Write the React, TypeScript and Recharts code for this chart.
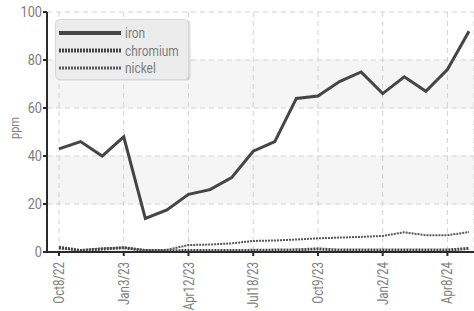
import React from 'react';
import { LineChart, Line, XAxis, YAxis, CartesianGrid } from 'recharts';

const DATES = [
  'Oct8/22', 'Nov8/22', 'Dec5/22', 'Jan3/23', 'Feb6/23', 'Mar9/23', 'Apr12/23',
  'May15/23', 'Jun14/23', 'Jul18/23', 'Aug15/23', 'Sep12/23', 'Oct9/23', 'Nov6/23',
  'Dec4/23', 'Jan2/24', 'Feb5/24', 'Mar7/24', 'Apr8/24', 'May6/24',
];
const IRON = [43, 46, 40, 48, 14, 17.5, 24, 26, 31, 42, 46, 64, 65, 71, 75, 66, 73, 67, 76, 92];
const CHROMIUM = [2, 0.6, 1.2, 1.8, 0.6, 0.5, 0.6, 0.6, 0.6, 0.7, 0.8, 0.9, 1.3, 0.8, 0.8, 0.8, 0.8, 0.8, 0.8, 1.5];
const NICKEL = [1.5, 0.8, 1.5, 1.8, 0.8, 0.9, 2.9, 3.1, 3.6, 4.6, 4.8, 5.2, 5.7, 6, 6.3, 6.7, 8.2, 7, 7, 8.3];
const Y_TICKS = [0, 20, 40, 60, 80, 100];

// no condensed font is installed, so Roboto gets squeezed horizontally
const FONT = 'Roboto, sans-serif';
const LABEL_COLOR = '#7d7d7d';

const data = DATES.map((d, i) => ({ date: d, iron: IRON[i], chromium: CHROMIUM[i], nickel: NICKEL[i] }));

const SERIES = [
  { key: 'iron', width: 3, dash: undefined, color: '#454545' },
  { key: 'chromium', width: 3, dash: '2 1', color: '#454545' },
  { key: 'nickel', width: 2, dash: '2 1', color: '#575757' },
];

const YTick = ({ x, y, payload }: any) => (
  <g transform={`translate(${x + 1},${y}) scale(0.85,1)`}>
    <text x={0} y={0} dy="0.36em" textAnchor="end" fill={LABEL_COLOR} fontSize={15} fontFamily={FONT}>
      {payload.value}
    </text>
  </g>
);

const XTick = ({ x, y, payload }: any) => (
  <g transform={`translate(${x},${y + 4}) rotate(-90) scale(0.82,1)`}>
    <text x={0} y={0} dy="0.36em" textAnchor="end" fill={LABEL_COLOR} fontSize={14} fontFamily={FONT}>
      {payload.value}
    </text>
  </g>
);

const PpmLabel = () => (
  <g transform="translate(14,128) rotate(-90) scale(0.85,1)">
    <text x={0} y={0} dy="0.36em" textAnchor="middle" fill={LABEL_COLOR} fontSize={13} fontFamily={FONT}>
      ppm
    </text>
  </g>
);

const LegendBox = () => (
  <svg width={136} height={63} style={{ position: 'absolute', left: 55, top: 19 }}>
    <rect x={1.5} y={1.5} width={134} height={60} rx={4} fill="#bdbdbd" opacity={0.5} />
    <rect x={0.5} y={0.5} width={133} height={60} rx={4} fill="#ececec" stroke="#d8d8d8" />
    {SERIES.map((s, i) => (
      <g key={s.key} transform={`translate(0,${14 + i * 17.5})`}>
        <line x1={4} y1={0} x2={66} y2={0} stroke={s.color} strokeWidth={s.width + 1} strokeDasharray={s.dash} />
        <g transform="translate(70,0) scale(0.85,1)">
          <text x={0} y={0} dy="0.36em" fill={LABEL_COLOR} fontSize={14} fontFamily={FONT}>
            {s.key}
          </text>
        </g>
      </g>
    ))}
  </svg>
);

export default function App() {
  return (
    <div style={{ position: 'absolute', left: 0, top: 0, width: 474, height: 311 }}>
      <LineChart width={474} height={311} data={data} margin={{ top: 12, right: 0, bottom: 0, left: 0 }}>
        <CartesianGrid
          xAxisId="all"
          strokeDasharray="5 4"
          stroke="#ebebeb"
          horizontal={false}
        />
        <CartesianGrid
          strokeDasharray="5 4"
          stroke="#d2d2d2"
          horizontalFill={['#ffffff', '#f5f5f5']}
        />
        <XAxis
          xAxisId="all"
          dataKey="date"
          interval={0}
          padding={{ left: 12, right: 5 }}
          hide
        />
        <XAxis
          dataKey="date"
          interval={2}
          padding={{ left: 12, right: 5 }}
          height={59}
          tickSize={4}
          stroke="#2a2a2a"
          strokeWidth={2}
          tick={<XTick />}
        />
        <YAxis
          domain={[0, 100]}
          ticks={Y_TICKS}
          width={47}
          tickSize={4}
          stroke="#2a2a2a"
          strokeWidth={2}
          tick={<YTick />}
          label={<PpmLabel />}
        />
        {SERIES.slice().reverse().map((s) => (
          <Line
            key={s.key}
            dataKey={s.key}
            type="linear"
            stroke={s.color}
            strokeWidth={s.width}
            strokeDasharray={s.dash}
            dot={false}
            isAnimationActive={false}
          />
        ))}
      </LineChart>
      <LegendBox />
    </div>
  );
}
